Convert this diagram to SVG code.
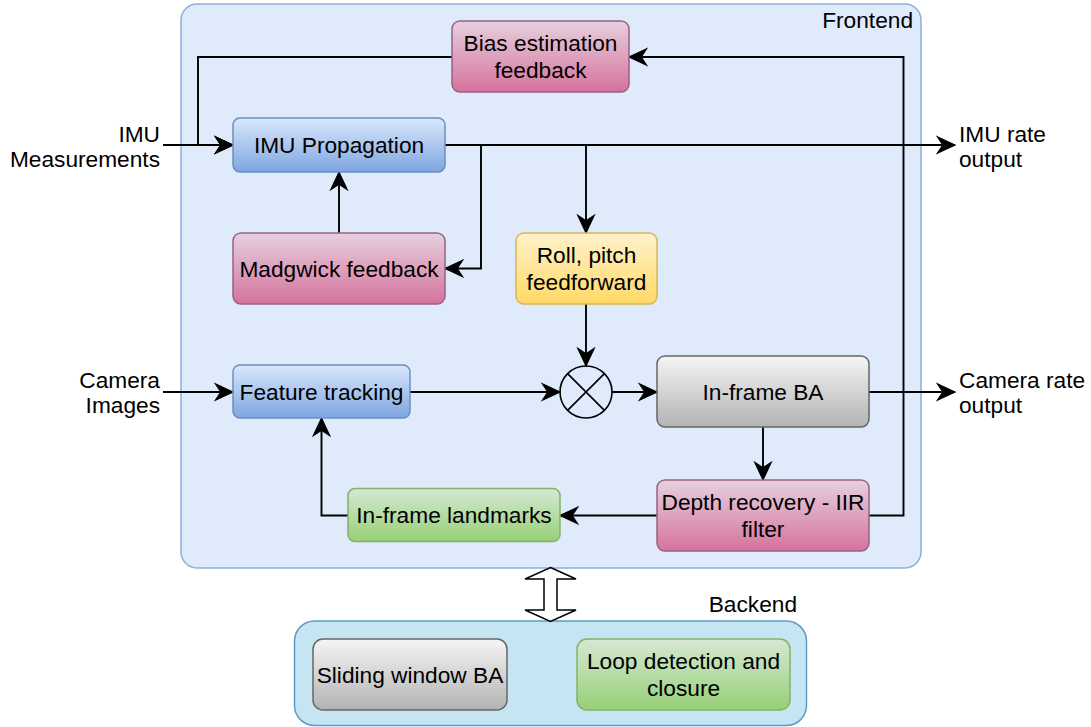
<svg xmlns="http://www.w3.org/2000/svg" width="1091" height="727" viewBox="0 0 1091 727">
  <style>
    text { font-family: "Liberation Sans", Arial, Helvetica, sans-serif; font-size: 22.7px; fill: #000; }
    .c { text-anchor: middle; }
    .e { text-anchor: end; }
    .node { stroke-width: 1.5; }
    .edge { fill: none; stroke: #000; stroke-width: 1.9; }
  </style>
  <defs>
    <linearGradient id="gBlue" x1="0" y1="0" x2="0" y2="1">
      <stop offset="0" stop-color="#dae8fc"/>
      <stop offset="1" stop-color="#7ea6e0"/>
    </linearGradient>
    <linearGradient id="gPink" x1="0" y1="0" x2="0" y2="1">
      <stop offset="0" stop-color="#e6d0de"/>
      <stop offset="1" stop-color="#d5739d"/>
    </linearGradient>
    <linearGradient id="gYellow" x1="0" y1="0" x2="0" y2="1">
      <stop offset="0" stop-color="#fff2cc"/>
      <stop offset="1" stop-color="#ffd966"/>
    </linearGradient>
    <linearGradient id="gGray" x1="0" y1="0" x2="0" y2="1">
      <stop offset="0" stop-color="#f5f5f5"/>
      <stop offset="1" stop-color="#b3b3b3"/>
    </linearGradient>
    <linearGradient id="gGreen" x1="0" y1="0" x2="0" y2="1">
      <stop offset="0" stop-color="#d5e8d4"/>
      <stop offset="1" stop-color="#97d077"/>
    </linearGradient>
    <marker id="arrow" markerUnits="userSpaceOnUse" markerWidth="20" markerHeight="20" viewBox="-17 -9 18 18" refX="0" refY="0" orient="auto">
      <path d="M0,0 L-16,-7.5 L-11,0 L-16,7.5 Z" fill="#000" stroke="#000" stroke-width="1"/>
    </marker>
  </defs>

  <rect width="1091" height="727" fill="#ffffff"/>

  <!-- Frontend container -->
  <g id="frontend">
    <rect x="181" y="4" width="740" height="564" rx="16" fill="#dfeafb" stroke="#8eaedb" stroke-width="1.5"/>
    <text x="913" y="28" class="e">Frontend</text>
  </g>

  <!-- Backend container -->
  <g id="backend">
    <rect x="294.5" y="621" width="512" height="104.5" rx="20" fill="#c5e5f3" stroke="#5b9cc2" stroke-width="1.5"/>
    <text x="797" y="612" class="e">Backend</text>
  </g>

  <!-- Connectors -->
  <g id="connectors">
    <path class="edge" d="M163,145 L233,145" marker-end="url(#arrow)"/>
    <path class="edge" d="M452,57 L198,57 L198,145 L233,145" marker-end="url(#arrow)"/>
    <path class="edge" d="M445,145 L955,145" marker-end="url(#arrow)"/>
    <path class="edge" d="M445,145 L481,145 L481,268.5 L445,268.5" marker-end="url(#arrow)"/>
    <path class="edge" d="M586,145 L586,233" marker-end="url(#arrow)"/>
    <path class="edge" d="M339,233 L339,172" marker-end="url(#arrow)"/>
    <path class="edge" d="M586,304 L586,366" marker-end="url(#arrow)"/>
    <path class="edge" d="M163,392 L233,392" marker-end="url(#arrow)"/>
    <path class="edge" d="M410,392 L560,392" marker-end="url(#arrow)"/>
    <path class="edge" d="M612,392 L657,392" marker-end="url(#arrow)"/>
    <path class="edge" d="M869,392 L955,392" marker-end="url(#arrow)"/>
    <path class="edge" d="M763,427 L763,480" marker-end="url(#arrow)"/>
    <path class="edge" d="M657,515.5 L560,515.5" marker-end="url(#arrow)"/>
    <path class="edge" d="M869,515.5 L903.5,515.5 L903.5,57 L629,57" marker-end="url(#arrow)"/>
    <path class="edge" d="M348,515.5 L321.5,515.5 L321.5,418" marker-end="url(#arrow)"/>
    <!-- frontend / backend exchange -->
    <path d="M550.5,567.5 L576,579 L557,579 L557,610 L576,610 L550.5,621.5 L525,610 L544,610 L544,579 L525,579 Z" fill="#ffffff" stroke="#000" stroke-width="1.5" stroke-linejoin="miter"/>
  </g>

  <!-- External inputs and outputs -->
  <g id="imu-input">
    <text x="160" y="141.7" class="e">IMU</text>
    <text x="160" y="166.7" class="e">Measurements</text>
  </g>
  <g id="camera-input">
    <text x="160" y="388.3" class="e">Camera</text>
    <text x="160" y="413.3" class="e">Images</text>
  </g>
  <g id="imu-output">
    <text x="959" y="141.7">IMU rate</text>
    <text x="959" y="166.7">output</text>
  </g>
  <g id="camera-output">
    <text x="959" y="388.3">Camera rate</text>
    <text x="959" y="413.3">output</text>
  </g>

  <!-- Frontend nodes -->
  <g id="bias-feedback">
    <rect class="node" x="452" y="21" width="177" height="71" rx="8" fill="url(#gPink)" stroke="#996185"/>
    <text x="540.5" y="51.2" class="c">Bias estimation</text>
    <text x="540.5" y="77.8" class="c">feedback</text>
  </g>
  <g id="imu-propagation">
    <rect class="node" x="233" y="118" width="212" height="54" rx="7" fill="url(#gBlue)" stroke="#6c8ebf"/>
    <text x="339" y="153" class="c">IMU Propagation</text>
  </g>
  <g id="madgwick-feedback">
    <rect class="node" x="233" y="233" width="212" height="71" rx="8" fill="url(#gPink)" stroke="#996185"/>
    <text x="339" y="276.5" class="c">Madgwick feedback</text>
  </g>
  <g id="roll-pitch">
    <rect class="node" x="516" y="233" width="141" height="71" rx="8" fill="url(#gYellow)" stroke="#d6b656"/>
    <text x="586.5" y="263.2" class="c">Roll, pitch</text>
    <text x="586.5" y="289.8" class="c">feedforward</text>
  </g>
  <g id="feature-tracking">
    <rect class="node" x="233" y="365" width="177" height="53" rx="7" fill="url(#gBlue)" stroke="#6c8ebf"/>
    <text x="321.5" y="399.5" class="c">Feature tracking</text>
  </g>
  <g id="combiner">
    <circle cx="586" cy="392" r="26" fill="none" stroke="#000" stroke-width="1.6"/>
    <path d="M567.6,373.6 L604.4,410.4 M604.4,373.6 L567.6,410.4" stroke="#000" stroke-width="1.6"/>
  </g>
  <g id="inframe-ba">
    <rect class="node" x="657" y="356" width="212" height="71" rx="8" fill="url(#gGray)" stroke="#666666"/>
    <text x="763" y="399.5" class="c">In-frame BA</text>
  </g>
  <g id="depth-recovery">
    <rect class="node" x="657" y="480" width="212" height="71" rx="8" fill="url(#gPink)" stroke="#996185"/>
    <text x="763" y="510.2" class="c">Depth recovery - IIR</text>
    <text x="763" y="536.8" class="c">filter</text>
  </g>
  <g id="inframe-landmarks">
    <rect class="node" x="348" y="488.5" width="212" height="53" rx="7" fill="url(#gGreen)" stroke="#82b366"/>
    <text x="454" y="523" class="c">In-frame landmarks</text>
  </g>

  <!-- Backend nodes -->
  <g id="sliding-window-ba">
    <rect class="node" x="313" y="639" width="194" height="71" rx="10" fill="url(#gGray)" stroke="#666666"/>
    <text x="410" y="682.5" class="c">Sliding window BA</text>
  </g>
  <g id="loop-closure">
    <rect class="node" x="577" y="639" width="213" height="71" rx="10" fill="url(#gGreen)" stroke="#82b366"/>
    <text x="683.5" y="669.2" class="c">Loop detection and</text>
    <text x="683.5" y="695.8" class="c">closure</text>
  </g>
</svg>
